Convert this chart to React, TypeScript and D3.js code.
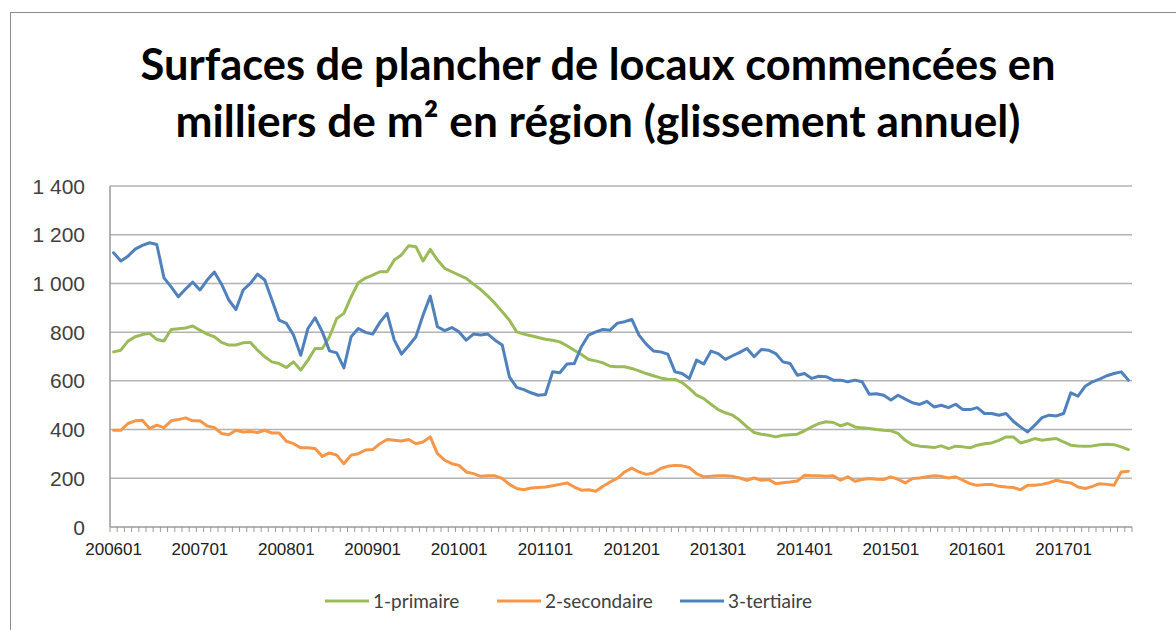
import React from "react";
import * as d3 from "d3";

const years = [2006, 2007, 2008, 2009, 2010, 2011, 2012, 2013, 2014, 2015, 2016, 2017];
const lastMonth = "201710";
const months: string[] = [];
years.forEach((y) => {
  for (let m = 1; m <= 12; m++) {
    const k = `${y}${m < 10 ? "0" + m : m}`;
    if (k <= lastMonth) months.push(k);
  }
});
const tickLabels = years.map((y) => `${y}01`);
const yTicks = [0, 200, 400, 600, 800, 1000, 1200, 1400];

const primaire = [
  719, 726, 763, 781, 790, 795, 770, 764, 811, 814,
  817, 825, 808, 792, 781, 758, 747, 747, 756, 758,
  726, 699, 678, 671, 655, 678, 644, 685, 733, 733,
  781, 856, 877, 945, 1003, 1022, 1034, 1048, 1048, 1096,
  1117, 1155, 1151, 1092, 1140, 1096, 1062, 1048, 1034, 1021,
  997, 975, 948, 918, 884, 849, 801, 792, 785, 778,
  771, 767, 760, 744, 726, 708, 688, 682, 674, 660,
  658, 658, 651, 641, 630, 621, 612, 607, 606, 593,
  569, 541, 527, 504, 482, 469, 459, 438, 411, 388,
  381, 377, 370, 377, 379, 381, 395, 411, 425, 432,
  429, 415, 425, 411, 407, 404, 400, 397, 395, 384,
  356, 338, 332, 329, 326, 333, 322, 332, 329, 325,
  336, 342, 345, 356, 370, 370, 345, 353, 363, 356,
  360, 363, 349, 336, 333, 332, 333, 338, 340, 338,
  329, 318,
];

const secondaire = [
  397, 397, 425, 436, 438, 404, 418, 408, 436, 441,
  448, 436, 436, 415, 408, 384, 379, 397, 390, 392,
  388, 397, 386, 386, 352, 342, 325, 325, 322, 290,
  304, 295, 260, 295, 301, 316, 318, 342, 359, 356,
  353, 359, 342, 349, 370, 301, 274, 260, 253, 226,
  219, 208, 210, 210, 199, 175, 158, 153, 160, 162,
  164, 169, 175, 181, 164, 151, 153, 147, 167, 185,
  200, 226, 242, 226, 216, 222, 240, 249, 253, 251,
  244, 219, 206, 208, 210, 210, 208, 201, 192, 201,
  192, 195, 178, 182, 185, 189, 212, 210, 210, 208,
  210, 192, 206, 188, 195, 199, 196, 195, 206, 196,
  181, 199, 201, 206, 210, 208, 201, 206, 192, 178,
  171, 174, 175, 167, 164, 162, 153, 171, 171, 175,
  182, 192, 185, 181, 164, 158, 167, 178, 175, 171,
  226, 229,
];

const tertiaire = [
  1126, 1092, 1112, 1141, 1156, 1167, 1160, 1023, 986, 945,
  977, 1005, 973, 1014, 1047, 997, 932, 893, 973, 1000,
  1038, 1014, 932, 849, 836, 788, 705, 815, 859, 801,
  723, 715, 653, 781, 815, 799, 792, 840, 877, 767,
  710, 744, 781, 870, 948, 822, 806, 819, 801, 767,
  792, 788, 792, 767, 747, 616, 573, 564, 551, 541,
  544, 637, 633, 669, 671, 740, 788, 801, 811, 808,
  837, 843, 852, 788, 751, 723, 719, 710, 637, 630,
  610, 685, 669, 722, 712, 688, 703, 717, 733, 699,
  729, 726, 712, 678, 671, 623, 630, 610, 619, 617,
  603, 603, 596, 603, 596, 545, 547, 541, 521, 541,
  525, 510, 503, 516, 493, 500, 490, 504, 482, 482,
  490, 466, 466, 459, 466, 434, 411, 390, 418, 449,
  459, 456, 466, 551, 537, 578, 596, 607, 621, 630,
  637, 603,
];

const seriesNames = ["1-primaire", "2-secondaire", "3-tertiaire"];
const seriesColors = ["#9BBB59", "#F79646", "#4F81BD"];
const seriesData = [primaire, secondaire, tertiaire];

export default function App() {
  const W = 1176;
  const H = 630;
  const left = 110;
  const right = 1132;
  const top = 186;
  const bottom = 527;

  const x = d3.scaleBand<string>().domain(months).range([left, right]).padding(0);
  const y = d3.scaleLinear().domain([0, 1400]).range([bottom, top]);
  const cx = (m: string) => (x(m) as number) + x.bandwidth() / 2;

  const line = d3
    .line<number>()
    .x((_, i) => cx(months[i]))
    .y((d) => y(d));

  const tickXs = months.map((m) => x(m) as number).concat([right]);

  const legendItems = [
    { lx: 325, tx: 373 },
    { lx: 497, tx: 545 },
    { lx: 680, tx: 728 },
  ];
  const legendY = 601;

  return (
    <svg
      width={W}
      height={H}
      style={{ position: "absolute", left: 0, top: 0, background: "#fff" }}
      fontFamily="Lato, 'Open Sans', sans-serif"
    >
      <rect x={0} y={0} width={W} height={H} fill="#fff" />
      <rect x={10.5} y={12.5} width={W + 20} height={H + 20} fill="none" stroke="#8c8c8c" strokeWidth={1} />

      <text
        x={598}
        y={80}
        textAnchor="middle"
        fontSize={44}
        fontWeight={700}
        fill="#000"
        fontFamily="Lato, sans-serif"
        textLength={915}
        lengthAdjust="spacingAndGlyphs"
      >
        Surfaces de plancher de locaux commencées en
      </text>
      <text
        x={598}
        y={137}
        textAnchor="middle"
        fontSize={44}
        fontWeight={700}
        fill="#000"
        fontFamily="Lato, sans-serif"
        textLength={845}
        lengthAdjust="spacingAndGlyphs"
      >
        milliers de m² en région (glissement annuel)
      </text>

      {yTicks.map((t) => (
        <g key={t}>
          {t > 0 && (
            <line x1={left} x2={right} y1={y(t)} y2={y(t)} stroke="#b3b3b3" strokeWidth={1.5} />
          )}
          <text
            x={85}
            y={y(t) + 7.5}
            textAnchor="end"
            fontSize={21}
            fill="#404040"
            fontFamily="'Liberation Sans', Arial, sans-serif"
          >
            {d3.format(",")(t).replace(",", " ")}
          </text>
        </g>
      ))}

      <line x1={left} x2={left} y1={top} y2={bottom} stroke="#9a9a9a" strokeWidth={1.5} />
      <line x1={left} x2={right} y1={bottom} y2={bottom} stroke="#9a9a9a" strokeWidth={1.5} />
      {tickXs.map((tx, i) => (
        <line key={i} x1={tx} x2={tx} y1={bottom} y2={bottom + 5} stroke="#9a9a9a" strokeWidth={1} />
      ))}
      {tickLabels.map((lab) => (
        <text
          key={lab}
          x={cx(lab)}
          y={555}
          textAnchor="middle"
          fontSize={17}
          fill="#202020"
          fontFamily="'Liberation Sans', Arial, sans-serif"
        >
          {lab}
        </text>
      ))}

      {seriesData.map((s, k) => (
        <path
          key={k}
          d={line(s) || ""}
          fill="none"
          stroke={seriesColors[k]}
          strokeWidth={3}
          strokeLinejoin="round"
          strokeLinecap="round"
        />
      ))}

      {seriesNames.map((n, k) => (
        <g key={n}>
          <line
            x1={legendItems[k].lx}
            x2={legendItems[k].lx + 44}
            y1={legendY}
            y2={legendY}
            stroke={seriesColors[k]}
            strokeWidth={3}
          />
          <text x={legendItems[k].tx} y={legendY + 6.5} fontSize={19} fill="#404040" fontFamily="Lato, sans-serif">
            {n}
          </text>
        </g>
      ))}
    </svg>
  );
}
